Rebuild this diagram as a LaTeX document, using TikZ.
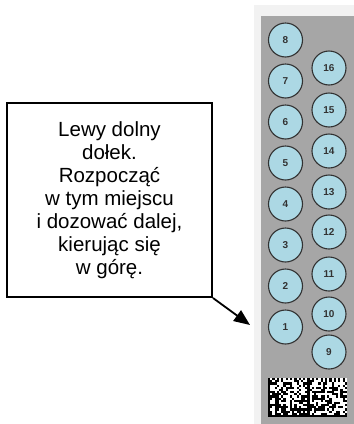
\documentclass[tikz,border=0pt]{standalone}
\usepackage{fontspec}
\setmainfont{Liberation Sans}
\usetikzlibrary{arrows.meta}
\definecolor{stripgrey}{RGB}{166,166,166}
\definecolor{framegrey}{RGB}{242,242,242}
\definecolor{wellblue}{RGB}{172,216,228}
\definecolor{rimgrey}{RGB}{50,50,50}
\begin{document}
\begin{tikzpicture}[x=1pt,y=-1pt,
  well/.style={circle,draw=rimgrey,line width=1.1pt,fill=wellblue,minimum size=34pt,inner sep=0pt,
    font=\fontsize{10}{10}\selectfont\bfseries,text=rimgrey},
  callout/.style={draw,line width=2pt,minimum width=205pt,minimum height=194pt,align=center,
    font=\fontsize{20.5}{23}\selectfont,inner sep=0pt},
  pointer/.style={line width=1.8pt,-{Triangle[length=16pt,width=13pt]}}]
\useasboundingbox (0,0) rectangle (354,424);
\fill[framegrey] (254,5) rectangle (354,424);
\fill[stripgrey] (261,16) rectangle (354,424);
% left column
\foreach \n/\y in {1/327,2/286,3/245,4/204,5/163,6/122,7/81,8/40}
  \node[well] (c\n) at (285.5,\y) {\n};
% right column
\foreach \n/\y in {9/352,10/314,11/274,12/232,13/192,14/151,15/110,16/68}
  \node[well] (c\n) at (329,\y) {\n};
% barcode
\fill[white] (268,378) rectangle (347,417);
\pgfmathsetseed{12}
\foreach \i in {0,...,35}{
  \foreach \j in {0,...,17}{
    \pgfmathrandominteger{\r}{0}{1}
    \pgfmathtruncatemacro\ci{mod(\i,18)}
    \pgfmathtruncatemacro\b{(\ci==0 || \j==0) ? 1 : ((\j==17) ? (1-mod(\ci,2)) : ((\ci==17) ? mod(\j,2) : \r))}
    \ifnum\b=1 \fill (268+\i*2.194,417-\j*2.167) rectangle +(2.194,-2.167);\fi
  }
}
% callout
\node[callout] (box) at (109.5,200) {Lewy dolny\\dołek.\\Rozpocząć\\w tym miejscu\\i dozować dalej,\\kierując się\\w górę.};
\coordinate (tip) at (250,325);
\draw[pointer] (box.south east) -- (tip);
\end{tikzpicture}
\end{document}
